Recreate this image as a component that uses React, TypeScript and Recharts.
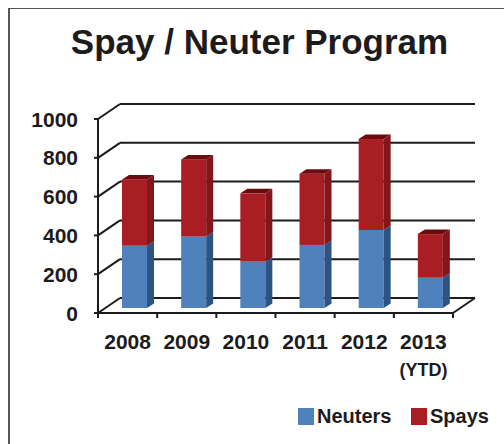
import React from "react";
import { BarChart, Bar, XAxis, YAxis, CartesianGrid } from "recharts";

const categories = ["2008", "2009", "2010", "2011", "2012", "2013 (YTD)"];
const neuters = [321, 368, 239, 325, 402, 156];
const spays = [342, 398, 352, 367, 469, 225];
const yTicks = [0, 200, 400, 600, 800, 1000];

const data = categories.map((c, i) => ({ year: c, neuters: neuters[i], spays: spays[i] }));

const W = 504;
const H = 444;
const margin = { top: 114, right: 44, bottom: 96, left: 45 };
const Y_W = 60;
const X_H = 40;
const PLOT_LEFT = margin.left + Y_W;
const PLOT_RIGHT = W - margin.right;
const PLOT_TOP = margin.top;
const PLOT_BOTTOM = H - margin.bottom - X_H;
const BAND = (PLOT_RIGHT - PLOT_LEFT) / categories.length;

// 3d offsets relative to the plane of the bar fronts
const FX = -7, FY = 5; // front edge of floor / axis
const BX = 15, BY = -10; // back wall
const DX = 7, DY = -4.5; // bar depth

const INK = "#1d1b1c";
const FONT = "'Liberation Sans', Arial, Helvetica, sans-serif";

const gridLine = (p: any) => {
  const { x1, x2, y1 } = p;
  const isFloor = Math.abs(y1 - PLOT_BOTTOM) < 1;
  return (
    <g key={p.key ?? `g-${y1}`}>
      <line x1={x1 + BX} y1={y1 + BY} x2={x2 + BX} y2={y1 + BY} stroke={INK} strokeWidth={2} />
      <line x1={x1 + FX} y1={y1 + FY} x2={x1 + BX} y2={y1 + BY} stroke={INK} strokeWidth={2} />
      {isFloor && (
        <>
          <line x1={x1 + FX} y1={y1 + FY} x2={x2 + FX} y2={y1 + FY} stroke={INK} strokeWidth={2} />
          <line x1={x2 + FX} y1={y1 + FY} x2={x2 + BX} y2={y1 + BY} stroke={INK} strokeWidth={2} />
          <line x1={x1 + FX} y1={PLOT_TOP + FY} x2={x1 + FX} y2={y1 + FY} stroke={INK} strokeWidth={2} />
        </>
      )}
    </g>
  );
};

const makeShape = (front: string, side: string, top: string | null) => (p: any) => {
  const { x, y, width: w, height: h } = p;
  if (!h || h <= 0) return <g />;
  return (
    <g>
      <rect x={x} y={y} width={w} height={h} fill={front} />
      <polygon
        points={`${x + w},${y} ${x + w + DX},${y + DY} ${x + w + DX},${y + h + DY} ${x + w},${y + h}`}
        fill={side}
      />
      {top && (
        <polygon points={`${x},${y} ${x + DX},${y + DY} ${x + w + DX},${y + DY} ${x + w},${y}`} fill={top} />
      )}
    </g>
  );
};

const YTick = (p: any) => {
  const { y, payload } = p;
  return (
    <g>
      <line x1={PLOT_LEFT + FX - 4} y1={y + FY} x2={PLOT_LEFT + FX} y2={y + FY} stroke={INK} strokeWidth={2} />
      <text
        x={78}
        y={y + FY}
        textAnchor="end"
        dominantBaseline="central"
        fontFamily={FONT}
        fontWeight="bold"
        fontSize={21}
        fill={INK}
      >
        {payload.value}
      </text>
    </g>
  );
};

const XTick = (p: any) => {
  const { x, payload, index } = p;
  const [main, sub] = String(payload.value).split(" ");
  const cx = x + FX;
  const ty = PLOT_BOTTOM + FY;
  return (
    <g>
      <line x1={cx - BAND / 2} y1={ty} x2={cx - BAND / 2} y2={ty + 5} stroke={INK} strokeWidth={2} />
      {index === categories.length - 1 && (
        <line x1={cx + BAND / 2} y1={ty} x2={cx + BAND / 2} y2={ty + 5} stroke={INK} strokeWidth={2} />
      )}
      <text x={cx} y={349} textAnchor="middle" fontFamily={FONT} fontWeight="bold" fontSize={21} fill={INK}>
        {main}
      </text>
      {sub && (
        <text x={cx} y={376} textAnchor="middle" fontFamily={FONT} fontWeight="bold" fontSize={18} fill={INK}>
          {sub}
        </text>
      )}
    </g>
  );
};

const legendItems = [
  { name: "Neuters", color: "#4f81bd", left: 298 },
  { name: "Spays", color: "#a81e23", left: 411 },
];

export default function App() {
  return (
    <div style={{ position: "absolute", left: 0, top: 0, width: W, height: H, background: "#fff" }}>
      <div
        style={{
          position: "absolute",
          left: 8,
          top: 8,
          width: W - 8,
          height: H - 8,
          borderLeft: "2px solid #555",
          borderTop: "1.5px solid #555",
          boxSizing: "border-box",
        }}
      />
      <div
        style={{
          position: "absolute",
          left: 0,
          top: 25,
          width: 519,
          textAlign: "center",
          fontFamily: FONT,
          fontWeight: "bold",
          fontSize: 35,
          lineHeight: "34px",
          color: INK,
          whiteSpace: "nowrap",
        }}
      >
        Spay / Neuter Program
      </div>
      <BarChart width={W} height={H} data={data} margin={margin} style={{ position: "absolute", left: 0, top: 0 }}>
        <CartesianGrid vertical={false} horizontal={gridLine} />
        <XAxis dataKey="year" height={X_H} axisLine={false} tickLine={false} tick={<XTick />} interval={0} />
        <YAxis
          width={Y_W}
          domain={[0, 1000]}
          ticks={yTicks}
          axisLine={false}
          tickLine={false}
          tick={<YTick />}
          interval={0}
        />
        <Bar
          dataKey="neuters"
          stackId="a"
          barSize={25}
          fill="#4f81bd"
          isAnimationActive={false}
          shape={makeShape("#4f81bd", "#2d5383", null)}
        />
        <Bar
          dataKey="spays"
          stackId="a"
          barSize={25}
          fill="#a81e23"
          isAnimationActive={false}
          shape={makeShape("#a81e23", "#82161a", "#6d0a0d")}
        />
      </BarChart>
      {legendItems.map((it) => (
        <div key={it.name}>
          <div
            style={{
              position: "absolute",
              left: it.left,
              top: 408,
              width: 16,
              height: 17,
              background: it.color,
            }}
          />
          <div
            style={{
              position: "absolute",
              left: it.left + 19,
              top: 405,
              fontFamily: FONT,
              fontWeight: "bold",
              fontSize: 20,
              lineHeight: "22px",
              color: INK,
              whiteSpace: "nowrap",
            }}
          >
            {it.name}
          </div>
        </div>
      ))}
    </div>
  );
}
